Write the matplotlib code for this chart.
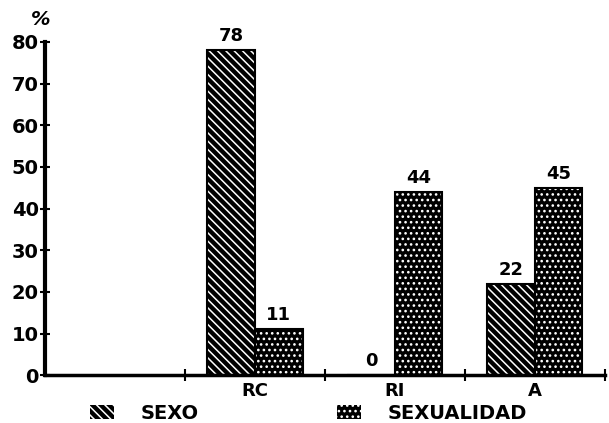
import matplotlib.pyplot as plt
import numpy as np

categories = ["", "RC", "RI", "A"]
sexo = [np.nan, 78, 0, 22]
sexualidad = [np.nan, 11, 44, 45]
yticks = [0, 10, 20, 30, 40, 50, 60, 70, 80]

plt.rcParams['hatch.linewidth'] = 1.1
plt.rcParams['font.family'] = 'DejaVu Sans'
plt.rcParams['font.weight'] = 'bold'

fig = plt.figure(figsize=(6.09, 4.23), dpi=100)
ax = fig.add_axes([0.074, 0.113, 0.919, 0.788])

x = np.arange(len(categories))
w = 0.34

b1 = ax.bar(x - w / 2, sexo, w, color='black', edgecolor='white', hatch='\\\\\\\\', linewidth=0, label='SEXO')
b2 = ax.bar(x + w / 2, sexualidad, w, color='black', edgecolor='white', hatch='...', linewidth=0, label='SEXUALIDAD')
# black outline on top of the white hatch
ax.bar(x - w / 2, sexo, w, fill=False, edgecolor='black', linewidth=1.5)
ax.bar(x + w / 2, sexualidad, w, fill=False, edgecolor='black', linewidth=1.5)

# value labels
for i in range(1, len(categories)):
    ax.text(x[i] - w / 2, sexo[i] + 1.2, str(sexo[i]), ha='center', va='bottom', fontsize=13, fontweight='heavy')
    ax.text(x[i] + w / 2, sexualidad[i] + 1.2, str(sexualidad[i]), ha='center', va='bottom', fontsize=13, fontweight='heavy')

ax.set_xlim(-0.5, 3.5)
ax.set_ylim(0, 80)
ax.set_yticks(yticks)
ax.set_yticklabels([str(t) for t in yticks], fontsize=14, fontweight='heavy')
ax.set_xticks(x[1:])
ax.set_xticklabels(categories[1:], fontsize=13, fontweight='heavy')
ax.set_xticks([0.5, 1.5, 2.5, 3.5], minor=True)
ax.tick_params(axis='x', which='major', length=0, pad=5)
ax.tick_params(axis='x', which='minor', direction='inout', length=8, width=1.5)
ax.tick_params(axis='y', direction='inout', length=7, width=1.5, pad=1)

for s in ['top', 'right']:
    ax.spines[s].set_visible(False)
ax.spines['left'].set_linewidth(3)
ax.spines['bottom'].set_linewidth(2.5)

fig.text(0.067, 0.955, '%', fontsize=14, fontweight='heavy', style='italic', ha='center', va='center')

fig.legend(handles=[b1, b2], loc='center left', bbox_to_anchor=(90 / 609, 1 - 413 / 423), ncol=2, frameon=False,
           handlelength=1.25, handleheight=0.7, handletextpad=1.35, columnspacing=7.1,
           borderpad=0, borderaxespad=0, prop={'weight': 'heavy', 'size': 14})

fig.savefig('out.png', dpi=100)
